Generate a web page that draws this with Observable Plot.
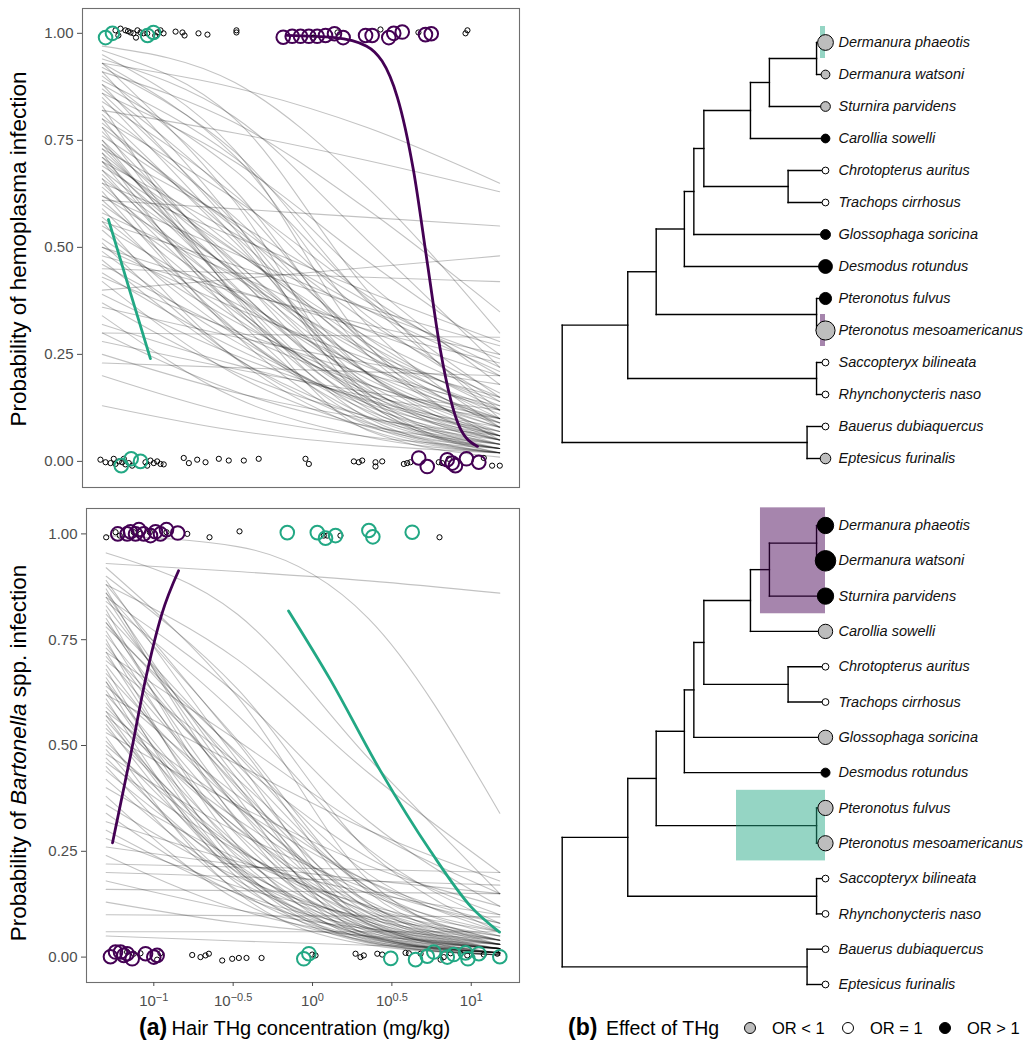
<!DOCTYPE html>
<html><head><meta charset="utf-8">
<script src="https://cdn.jsdelivr.net/npm/d3@7"></script>
<script src="https://cdn.jsdelivr.net/npm/@observablehq/plot@0.6"></script>
<style>
body{margin:0;background:#fff;}
#root{position:relative;width:1031px;height:1050px;font-family:"Liberation Sans",Arial,sans-serif;overflow:hidden;background:#fff;}
.abs{position:absolute;white-space:nowrap;}
</style></head><body><div id="root"></div>
<script>
// ---------- DATA ----------
const yTicks = [0, 0.25, 0.5, 0.75, 1];
const xTicks = [-1, -0.5, 0, 0.5, 1];            // log10 of hair THg (mg/kg)
const curveT = [-1.30, -0.473, 0.353, 1.18];     // log10 THg where each posterior curve is read

// Hemoplasma posterior curves: probability read at the four curveT positions
const hemoP0 = [0.97,0.96,0.95,0.94,0.93,0.93,0.92,0.91,0.90,0.89,0.88,0.87,0.86,0.85,0.84,0.83,0.82,0.82,0.81,0.80,0.80,0.79,0.78,0.78,0.77,0.76,0.75,0.75,0.74,0.74,0.73,0.73,0.72,0.72,0.71,0.71,0.70,0.70,0.69,0.68,0.68,0.67,0.66,0.66,0.65,0.65,0.64,0.63,0.62,0.61,0.61,0.60,0.59,0.58,0.57,0.56,0.56,0.55,0.54,0.40,0.52,0.51,0.50,0.50,0.49,0.48,0.47,0.46,0.45,0.44,0.43,0.42,0.39,0.37,0.36,0.34,0.32,0.30,0.30,0.28,0.25,0.23,0.20,0.13,0.88,0.93,0.70,0.62,0.91,0.86];
const hemoP1 = [0.885,0.80,0.727,0.804,0.873,0.606,0.723,0.791,0.634,0.709,0.542,0.611,0.70,0.523,0.622,0.384,0.57,0.767,0.512,0.613,0.443,0.527,0.545,0.389,0.457,0.553,0.468,0.394,0.50,0.41,0.56,0.435,0.338,0.465,0.492,0.406,0.357,0.438,0.49,0.364,0.443,0.39,0.297,0.445,0.525,0.361,0.394,0.308,0.43,0.59,0.35,0.387,0.306,0.438,0.336,0.242,0.458,0.37,0.295,0.426,0.327,0.244,0.359,0.401,0.281,0.397,0.242,0.301,0.44,0.265,0.306,0.203,0.248,0.209,0.291,0.149,0.226,0.297,0.164,0.216,0.161,0.219,0.11,0.072,0.68,0.713,0.532,0.485,0.56,0.557];
const hemoP2 = [0.64,0.40,0.273,0.517,0.78,0.151,0.375,0.589,0.25,0.42,0.16,0.27,0.468,0.177,0.34,0.073,0.277,0.703,0.206,0.387,0.135,0.25,0.289,0.102,0.174,0.327,0.204,0.124,0.26,0.146,0.373,0.182,0.093,0.226,0.275,0.16,0.115,0.207,0.291,0.134,0.228,0.168,0.085,0.248,0.397,0.148,0.193,0.105,0.259,0.57,0.157,0.209,0.119,0.306,0.164,0.075,0.359,0.221,0.129,0.453,0.181,0.09,0.24,0.308,0.136,0.319,0.103,0.179,0.43,0.141,0.204,0.081,0.144,0.105,0.23,0.057,0.152,0.293,0.083,0.162,0.10,0.209,0.058,0.038,0.38,0.319,0.354,0.354,0.139,0.206];
const hemoP3 = [0.30,0.10,0.05,0.22,0.65,0.02,0.12,0.35,0.06,0.18,0.03,0.08,0.25,0.04,0.14,0.01,0.10,0.63,0.06,0.20,0.03,0.09,0.12,0.02,0.05,0.16,0.07,0.03,0.11,0.04,0.22,0.06,0.02,0.09,0.13,0.05,0.03,0.08,0.15,0.04,0.10,0.06,0.02,0.12,0.28,0.05,0.08,0.03,0.14,0.55,0.06,0.10,0.04,0.20,0.07,0.02,0.27,0.12,0.05,0.48,0.09,0.03,0.15,0.23,0.06,0.25,0.04,0.10,0.42,0.07,0.13,0.03,0.08,0.05,0.18,0.02,0.10,0.29,0.04,0.12,0.06,0.20,0.03,0.02,0.15,0.08,0.21,0.24,0.02,0.05];

// Bartonella posterior curves
const bartP0 = [0.996,0.93,0.955,0.90,0.89,0.88,0.87,0.86,0.85,0.84,0.83,0.82,0.81,0.80,0.79,0.78,0.77,0.76,0.75,0.74,0.73,0.72,0.71,0.70,0.69,0.68,0.67,0.66,0.65,0.64,0.63,0.62,0.61,0.60,0.59,0.58,0.57,0.56,0.55,0.54,0.53,0.52,0.51,0.50,0.49,0.48,0.47,0.46,0.45,0.44,0.42,0.40,0.38,0.36,0.34,0.32,0.30,0.28,0.26,0.24,0.22,0.20,0.18,0.16,0.13,0.10,0.06,0.05,0.88,0.85,0.92,0.86,0.79,0.72,0.65,0.58,0.62,0.57];
const bartP1 = [0.97,0.911,0.81,0.634,0.465,0.507,0.378,0.513,0.406,0.572,0.44,0.32,0.478,0.352,0.397,0.483,0.325,0.404,0.263,0.354,0.421,0.287,0.364,0.458,0.319,0.219,0.357,0.252,0.293,0.382,0.235,0.304,0.187,0.265,0.306,0.211,0.325,0.242,0.198,0.259,0.359,0.153,0.219,0.257,0.174,0.295,0.201,0.252,0.158,0.211,0.181,0.233,0.135,0.19,0.149,0.226,0.151,0.167,0.218,0.113,0.213,0.19,0.112,0.157,0.081,0.098,0.06,0.038,0.703,0.62,0.615,0.421,0.455,0.512,0.206,0.354,0.455,0.206];
const bartP2 = [0.80,0.889,0.47,0.25,0.085,0.127,0.052,0.153,0.077,0.255,0.113,0.046,0.163,0.069,0.104,0.196,0.065,0.126,0.04,0.096,0.164,0.06,0.117,0.235,0.089,0.036,0.132,0.055,0.084,0.178,0.053,0.103,0.033,0.079,0.119,0.049,0.149,0.075,0.047,0.094,0.216,0.029,0.07,0.107,0.044,0.161,0.067,0.118,0.042,0.083,0.063,0.122,0.038,0.09,0.057,0.152,0.069,0.094,0.182,0.048,0.207,0.18,0.067,0.153,0.05,0.097,0.06,0.028,0.435,0.321,0.181,0.079,0.157,0.301,0.035,0.179,0.30,0.049];
const bartP3 = [0.34,0.86,0.15,0.06,0.01,0.02,0.005,0.03,0.01,0.08,0.02,0.005,0.04,0.01,0.02,0.06,0.01,0.03,0.005,0.02,0.05,0.01,0.03,0.10,0.02,0.005,0.04,0.01,0.02,0.07,0.01,0.03,0.005,0.02,0.04,0.01,0.06,0.02,0.01,0.03,0.12,0.005,0.02,0.04,0.01,0.08,0.02,0.05,0.01,0.03,0.02,0.06,0.01,0.04,0.02,0.10,0.03,0.05,0.15,0.02,0.20,0.17,0.04,0.15,0.03,0.095,0.06,0.02,0.20,0.12,0.03,0.01,0.04,0.15,0.005,0.08,0.18,0.01];

// Clade-specific fitted curves (log10 THg, probability)
const hemoTealLineT = [-1.262, -1.13, -1.0];
const hemoTealLineP = [0.565, 0.40, 0.24];
const hemoPurpleLineT = [-0.15, 0.15, 0.35, 0.542, 0.642, 0.73, 0.81, 0.93, 1.042];
const hemoPurpleLineP = [0.995, 0.99, 0.97, 0.85, 0.68, 0.46, 0.26, 0.08, 0.035];
const bartPurpleLineT = [-1.26, -1.15, -1.05, -0.95, -0.844];
const bartPurpleLineP = [0.27, 0.47, 0.66, 0.81, 0.913];
const bartTealLineT = [-0.151, 0.113, 0.428, 0.744, 0.996, 1.178];
const bartTealLineP = [0.818, 0.655, 0.44, 0.25, 0.12, 0.059];

// Observations (log10 THg, jittered infection status) — hemoplasma
const hemoOtherT = [-1.218,-1.187,-1.156,-1.124,-1.106,-1.081,-1.062,-1.043,-0.956,-0.937,-0.918,-0.843,-0.80,-0.787,-0.70,-0.644,-0.463,-0.463,0.018,0.168,0.436,0.673,0.967,0.979,-1.20,-1.14,-1.09,-1.02,-0.97,
  -1.312,-1.28,-1.249,-1.229,-1.218,-1.197,-1.176,-1.166,-1.156,-1.135,-1.114,-1.031,-1.02,-1.0,-0.979,-0.958,-0.937,-0.917,-0.792,-0.76,-0.708,-0.656,-0.573,-0.511,-0.417,-0.324,-0.032,-0.011,0.27,0.301,0.322,0.405,0.405,0.447,0.582,0.603,0.623,0.80,0.821,0.863,1.081,1.133,1.181];
const hemoOtherP = [1.007,1.011,1.007,1.002,1.0,1.007,1.002,1.0,1.002,1.007,1.0,1.004,1.002,0.995,1.0,0.997,1.007,1.002,0.99,1.002,1.009,1.002,1.0,1.007,0.995,1.005,0.99,1.0,0.995,
  0.004,-0.002,-0.004,0.006,-0.006,0.0,-0.002,0.006,-0.007,-0.004,-0.01,-0.002,-0.01,0.002,-0.004,0.0,-0.006,-0.007,0.008,-0.004,0.004,-0.002,0.006,0.002,0.002,0.006,0.006,-0.006,0.0,-0.002,0.002,-0.002,-0.012,0.0,-0.006,-0.004,-0.002,-0.002,-0.004,0.006,0.008,-0.01,-0.01];
const hemoTealT = [-1.28,-1.237,-1.018,-0.981,-1.182,-1.12,-1.062];
const hemoTealP = [0.99,1.0,0.995,1.002,-0.01,0.006,0.0];
const hemoPurpleT = [-0.171,-0.115,-0.063,-0.011,0.041,0.093,0.149,0.203,0.343,0.384,0.488,0.519,0.572,0.717,0.753,0.675,0.728,0.853,0.884,0.904,0.973,1.05];
const hemoPurpleP = [0.991,0.993,0.993,0.993,0.993,0.995,0.999,0.99,0.995,0.995,0.99,1.0,1.003,0.997,0.999,0.008,-0.012,0.004,-0.004,-0.010,0.006,-0.002];

// Observations — Bartonella
const bartOtherT = [-1.30,-1.241,-1.214,-1.126,-1.084,-1.025,-0.92,-0.789,-0.649,-0.46,0.071,0.093,0.176,0.80,
  -1.168,-1.126,-1.084,-0.979,-0.958,-0.758,-0.706,-0.674,-0.653,-0.569,-0.506,-0.464,-0.416,-0.321,-0.002,0.019,0.271,0.302,0.323,0.408,0.439,0.586,0.607,0.681,0.807,0.827,0.87,0.933,0.975,1.079,1.164];
const bartOtherP = [0.992,1.004,0.996,1.004,1.0,1.004,1.004,1.0,0.992,1.006,0.996,0.996,0.996,0.992,
  0.012,0.008,0.009,-0.006,0.009,0.005,0.0,0.004,0.008,-0.008,-0.004,-0.002,-0.002,-0.002,0.006,0.004,0.008,0.0,0.004,0.008,0.006,0.01,0.009,0.008,-0.006,0.0,0.009,0.008,0.004,0.006,0.008];
const bartPurpleT = [-1.227,-1.168,-1.147,-1.115,-1.094,-1.063,-1.021,-0.989,-0.958,-0.92,-0.849,-1.273,-1.241,-1.21,-1.189,-1.168,-1.136,-1.052,-1.0,-0.979];
const bartPurpleP = [1.0,1.0,1.005,1.0,1.01,1.0,0.996,1.005,1.0,1.01,1.002,0.001,0.012,0.012,0.004,0.008,-0.004,0.008,0.0,0.004];
const bartTealT = [-0.159,0.03,0.082,0.145,0.355,0.38,0.628,-0.055,-0.023,0.493,0.649,0.723,0.764,0.849,0.89,0.964,0.979,1.048,1.18];
const bartTealP = [1.003,1.003,0.99,0.996,1.008,0.993,1.004,-0.004,0.008,-0.003,-0.006,0.002,0.012,0.0,0.006,0.01,-0.004,0.008,0.001];

// Phylogeny
const tips = ["Dermanura phaeotis","Dermanura watsoni","Sturnira parvidens","Carollia sowelli","Chrotopterus auritus","Trachops cirrhosus","Glossophaga soricina","Desmodus rotundus","Pteronotus fulvus","Pteronotus mesoamericanus","Saccopteryx bilineata","Rhynchonycteris naso","Bauerus dubiaquercus","Eptesicus furinalis"];
const nodeNames = ["Derm","DermStur","Steno","Phyllo1","ChrTra","Phyllo2","Phyllo3","Noctil","Ptero","Yango","Emball","Vesper","root"];
const nodeChildren = [["Dermanura phaeotis","Dermanura watsoni"],["Derm","Sturnira parvidens"],["DermStur","Carollia sowelli"],["Steno","ChrTra"],["Chrotopterus auritus","Trachops cirrhosus"],["Phyllo1","Glossophaga soricina"],["Phyllo2","Desmodus rotundus"],["Phyllo3","Ptero"],["Pteronotus fulvus","Pteronotus mesoamericanus"],["Noctil","Emball"],["Saccopteryx bilineata","Rhynchonycteris naso"],["Bauerus dubiaquercus","Eptesicus furinalis"],["Yango","Vesper"]];
const nodeDepth = [0.966,0.787,0.715,0.538,0.858,0.50,0.464,0.357,0.966,0.249,0.966,0.93,0]; // relative depth from root (tips = 1)
const effectLevels = ["OR < 1","OR = 1","OR > 1"];
const hemoEffect = ["OR < 1","OR < 1","OR < 1","OR > 1","OR = 1","OR = 1","OR > 1","OR > 1","OR > 1","OR < 1","OR = 1","OR = 1","OR = 1","OR < 1"];
const hemoEffectSize = [0.64,0.14,0.21,0.14,0,0,0.22,0.5,0.38,0.88,0,0,0,0.27];
const bartEffect = ["OR > 1","OR > 1","OR > 1","OR < 1","OR = 1","OR = 1","OR < 1","OR > 1","OR < 1","OR < 1","OR = 1","OR = 1","OR = 1","OR = 1"];
const bartEffectSize = [0.68,0.98,0.68,0.54,0,0,0.54,0.16,0.6,0.6,0,0,0,0];
const hemoHighlightTips = [["Dermanura phaeotis"],["Pteronotus mesoamericanus"]];
const hemoHighlightFrom = [0.981, 0.981];
const hemoHighlightColor = ["teal","purple"];
const bartHighlightTips = [["Dermanura phaeotis","Dermanura watsoni","Sturnira parvidens"],["Pteronotus fulvus","Pteronotus mesoamericanus"]];
const bartHighlightFrom = [0.753, 0.662];
const bartHighlightColor = ["purple","teal"];

// ---------- STYLE ----------
const PURPLE = "#440154", TEAL = "#22a884";
const FONT = '"Liberation Sans", Arial, Helvetica, sans-serif';
const zip = (T, P) => T.map((t, i) => ({t, p: P[i]}));
function curveRows(P0, P1, P2, P3) {
  const rows = [];
  P0.forEach((_, i) => [P0, P1, P2, P3].forEach((P, j) => rows.push({id: i, t: curveT[j], p: P[i]})));
  return rows;
}
const root = document.getElementById("root");
function place(el, left, top) { el.style.position = "absolute"; el.style.left = left + "px"; el.style.top = top + "px"; root.appendChild(el); }

function probPanel(o) {
  const marks = [
    Plot.frame({stroke: "#6f6f6f", strokeWidth: 1.1}),
    Plot.axisY({ticks: yTicks, tickFormat: d3.format(".2f"), tickSize: 5, tickPadding: 4, color: "#4d4d4d", fontSize: 15, label: null}),
    Plot.line(o.curves, {x: "t", y: "p", z: "id", stroke: "black", strokeOpacity: 0.24, strokeWidth: 1.1, curve: "monotone-x"}),
    ...o.lines.map(l => Plot.line(l.data, {x: "t", y: "p", stroke: l.color, strokeWidth: 2.8, curve: "monotone-x"})),
    Plot.dot(o.other, {x: "t", y: "p", r: 2.6, stroke: "black", strokeWidth: 1, fill: "none"}),
    ...o.groups.map(g => Plot.dot(g.data, {x: "t", y: "p", r: 6.8, stroke: g.color, strokeWidth: 2, fill: "none"}))
  ];
  if (o.xaxis) marks.push(Plot.axisX({ticks: xTicks, tickFormat: d => (d < 0 ? "\u2212" : "") + Math.abs(d), tickSize: 4, tickPadding: 9, color: "#4d4d4d", fontSize: 15, label: null}));
  const svg = Plot.plot({
    width: o.width, height: o.height, marginLeft: o.ml, marginRight: o.mr, marginTop: o.mt, marginBottom: o.mb,
    style: {fontFamily: FONT, background: "transparent", overflow: "visible"},
    x: {domain: [-1.424, 1.304], axis: null},
    y: {domain: o.ydom, axis: null},
    marks
  });
  if (o.xaxis) {
    svg.querySelectorAll('g[aria-label="x-axis tick label"] text').forEach(el => {
      const e = el.textContent; el.textContent = "";
      const ns = "http://www.w3.org/2000/svg";
      const a = document.createElementNS(ns, "tspan"); a.textContent = "10"; el.appendChild(a);
      const b = document.createElementNS(ns, "tspan"); b.textContent = e; b.setAttribute("dy", "-0.5em"); b.setAttribute("font-size", "11"); el.appendChild(b);
    });
  }
  return svg;
}

// Top-left: hemoplasma
place(probPanel({
  width: 530, height: 500, ml: 82, mr: 11, mt: 8, mb: 13, ydom: [-0.061, 1.058],
  curves: curveRows(hemoP0, hemoP1, hemoP2, hemoP3),
  lines: [{data: zip(hemoTealLineT, hemoTealLineP), color: TEAL}, {data: zip(hemoPurpleLineT, hemoPurpleLineP), color: PURPLE}],
  other: zip(hemoOtherT, hemoOtherP),
  groups: [{data: zip(hemoTealT, hemoTealP), color: TEAL}, {data: zip(hemoPurpleT, hemoPurpleP), color: PURPLE}]
}), 0, 0);

// Bottom-left: Bartonella
place(probPanel({
  width: 530, height: 550, ml: 86, mr: 11, mt: 8, mb: 68, ydom: [-0.06, 1.06], xaxis: true,
  curves: curveRows(bartP0, bartP1, bartP2, bartP3),
  lines: [{data: zip(bartPurpleLineT, bartPurpleLineP), color: PURPLE}, {data: zip(bartTealLineT, bartTealLineP), color: TEAL}],
  other: zip(bartOtherT, bartOtherP),
  groups: [{data: zip(bartPurpleT, bartPurpleP), color: PURPLE}, {data: zip(bartTealT, bartTealP), color: TEAL}]
}), 0, 500);

// Axis titles (HTML text)
function div(html, css) { const d = document.createElement("div"); d.className = "abs"; d.innerHTML = html; d.style.cssText += css; root.appendChild(d); return d; }
div("Probability of hemoplasma infection", `left:19px;top:249px;font-size:22.5px;color:#000;transform:translate(-50%,-50%) rotate(-90deg);`);
div("Probability of <i>Bartonella</i> spp. infection", `left:19px;top:753px;font-size:22.5px;color:#000;transform:translate(-50%,-50%) rotate(-90deg);`);
div('<b style="font-size:23px">(a)</b> <span style="font-size:20px">Hair THg concentration (mg/kg)</span>', `left:139px;top:1012px;line-height:30px;color:#000;`);

// ---------- Phylogenies ----------
const tipIndex = new Map(tips.map((s, i) => [s, i]));
const nodeY = new Map();
function yOf(n) {
  if (tipIndex.has(n)) return tipIndex.get(n);
  if (nodeY.has(n)) return nodeY.get(n);
  const y = d3.mean(nodeChildren[nodeNames.indexOf(n)], yOf); nodeY.set(n, y); return y;
}
const depthOf = n => tipIndex.has(n) ? 1 : nodeDepth[nodeNames.indexOf(n)];
const segs = [];
nodeNames.forEach((n, k) => {
  const d = nodeDepth[k], ys = nodeChildren[k].map(yOf);
  segs.push({x1: d, x2: d, y1: d3.min(ys), y2: d3.max(ys)});
  nodeChildren[k].forEach(c => segs.push({x1: d, x2: depthOf(c), y1: yOf(c), y2: yOf(c)}));
});

function treePanel(o) {
  const tipRows = tips.map((name, i) => ({name, i, effect: o.effect[i], size: o.size[i]}));
  const hl = o.hlTips.map((ts, k) => ({x1: o.hlFrom[k], x2: 1, y1: d3.min(ts, t => tipIndex.get(t)) - 0.5, y2: d3.max(ts, t => tipIndex.get(t)) + 0.5, c: o.hlColor[k] === "teal" ? TEAL : PURPLE}));
  return Plot.plot({
    width: 501, height: o.height, margin: 0,
    style: {fontFamily: FONT, background: "transparent", overflow: "visible"},
    x: {domain: [0, 1], range: [31.7, 295], axis: null},
    y: {domain: [0, 13], range: o.yrange, axis: null},
    r: {type: "linear", domain: [0, 1], range: [3.4, 10.4]},
    color: {domain: effectLevels, range: ["#bdbdbd", "#ffffff", "#000000"]},
    marks: [
      Plot.link(segs, {x1: "x1", y1: "y1", x2: "x2", y2: "y2", stroke: "black", strokeWidth: 1.4, strokeLinecap: "square"}),
      Plot.rect(hl, {x1: "x1", x2: "x2", y1: "y1", y2: "y2", fill: d => d.c, fillOpacity: 0.48}),
      Plot.dot(tipRows, {x: () => 1, y: "i", r: "size", fill: "effect", stroke: "black", strokeWidth: 1}),
      Plot.text(tipRows, {x: () => 1, y: "i", text: "name", dx: 13, textAnchor: "start", fontStyle: "italic", fontSize: 14.5, fill: "#111"})
    ]
  });
}
place(treePanel({height: 500, yrange: [42, 458], effect: hemoEffect, size: hemoEffectSize, hlTips: hemoHighlightTips, hlFrom: hemoHighlightFrom, hlColor: hemoHighlightColor}), 530, 0);
place(treePanel({height: 510, yrange: [25, 484], effect: bartEffect, size: bartEffectSize, hlTips: bartHighlightTips, hlFrom: bartHighlightFrom, hlColor: bartHighlightColor}), 530, 500);

// Legend for panel (b)
div('<b style="font-size:23px">(b)</b>', `left:568px;top:1012px;line-height:30px;`);
div('Effect of THg', `left:606px;top:1013px;line-height:30px;font-size:19.5px;`);
const legendFill = ["#bdbdbd", "#ffffff", "#000000"];
const legendX = [750, 848, 945];
effectLevels.forEach((lab, k) => {
  const s = d3.create("svg").attr("width", 14).attr("height", 14);
  s.append("circle").attr("cx", 7).attr("cy", 7).attr("r", 5.5).attr("fill", legendFill[k]).attr("stroke", "black").attr("stroke-width", 1);
  const n = s.node(); n.style.position = "absolute"; n.style.left = (legendX[k] - 7) + "px"; n.style.top = (1028 - 7) + "px"; root.appendChild(n);
  div(lab, `left:${legendX[k] + 22}px;top:1015px;line-height:26px;font-size:16.5px;`);
});
</script></body></html>
